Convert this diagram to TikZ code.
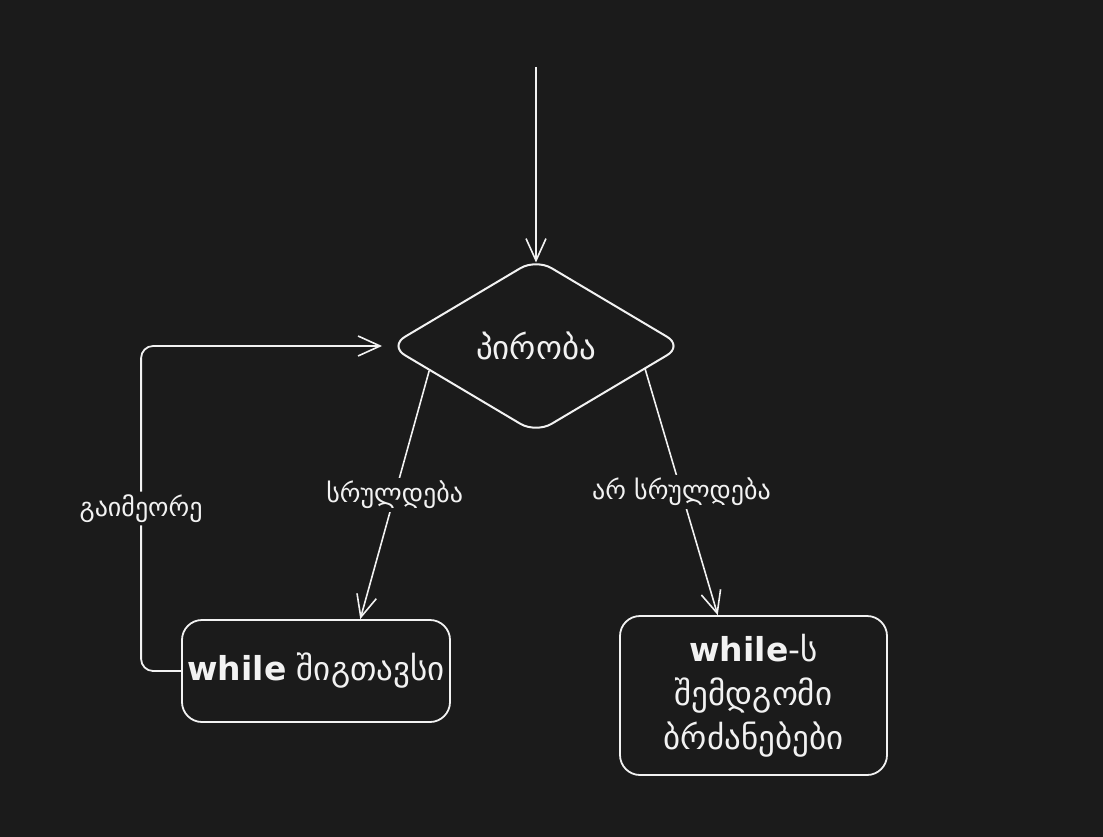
\documentclass[tikz,border=0pt]{standalone}
\usepackage{fontspec}
\setmainfont{DejaVu Sans}
\usetikzlibrary{arrows.meta,shapes.geometric,calc}
\definecolor{bg}{HTML}{1B1B1B}
\definecolor{ink}{HTML}{F2F2F2}
\tikzset{
  dia/.style={diamond, draw=ink, line width=2pt, rounded corners=18pt, minimum width=294pt, minimum height=175pt, inner sep=0pt, text=ink, font=\fontsize{33}{38}\selectfont},
  box/.style={rectangle, draw=ink, line width=1.8pt, rounded corners=20pt, text=ink, inner sep=0pt, align=center},
  conn/.style={draw=ink, line width=1.6pt, -{Straight Barb[length=22pt,width=20pt,line width=1.6pt]}},
  lbl/.style={fill=bg, text=ink, inner sep=3pt, font=\fontsize{26}{30}\selectfont},
}
\begin{document}
\begin{tikzpicture}[x=1pt,y=-1pt]
\path[fill=bg] (0,0) rectangle (1103,837);
\useasboundingbox (0,0) rectangle (1103,837);
\coordinate (start) at (536,67);
\node[dia] (cond) at (536,346) {პირობა};
\node[box, minimum width=268pt, minimum height=102pt, font=\fontsize{33}{38}\selectfont] (body) at (316,671) {{\bfseries while} შიგთავსი};
\node[box, minimum width=267pt, minimum height=159pt, font=\fontsize{33}{44}\selectfont] (after) at (753.5,695.5) {{\bfseries while}-ს\\შემდგომი\\ბრძანებები};
\draw[conn, line width=2pt] (start) -- ($(cond.north)+(0,5)$);
\draw[conn] (cond.193) -- node[lbl] {სრულდება} ($(body.north west)!0.664!(body.north east)$);
\draw[conn] (cond.348) -- node[lbl] {არ სრულდება} ($(after.north west)!0.367!(after.north east)$);
\draw[conn, line width=1.8pt, rounded corners=12pt] (body.west) -- ++(-40,0) |- node[lbl, pos=0.25] {გაიმეორე} ($(cond.west)+(-6,0)$);
\end{tikzpicture}
\end{document}
